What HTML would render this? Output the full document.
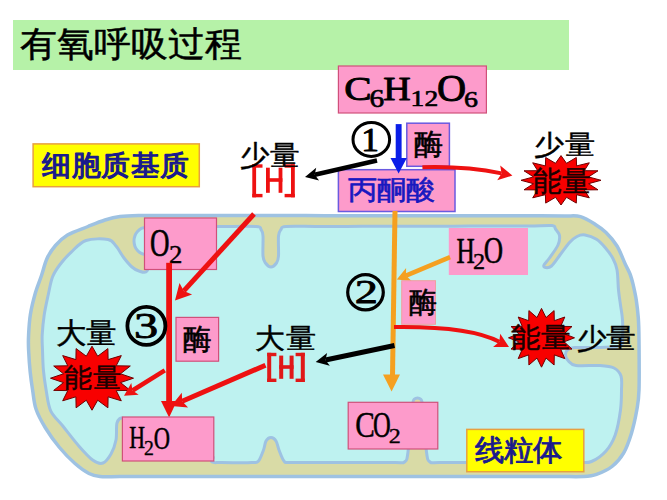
<!DOCTYPE html>
<html><head><meta charset="utf-8"><style>
html,body{margin:0;padding:0;background:#fff;width:667px;height:500px;overflow:hidden}
svg{display:block}
</style></head><body>
<svg width="667" height="500" viewBox="0 0 667 500">
<rect x="13" y="20" width="556" height="50" fill="#b6f2a8"/>
<path d="M88.0,226.5 C94.2,224.0 99.7,221.7 105.0,220.0 C110.3,218.3 114.2,217.2 120.0,216.5 C125.8,215.8 131.5,215.7 140.0,215.5 C148.5,215.3 160.5,215.5 170.77,215.52 C181.0,215.5 191.3,215.5 201.54,215.55 C211.8,215.6 222.1,215.6 232.31,215.57 C242.6,215.6 252.8,215.6 263.08,215.59 C273.3,215.6 283.6,215.6 293.85,215.62 C304.1,215.6 314.4,215.6 324.62,215.64 C334.9,215.6 345.1,215.7 355.38,215.66 C365.6,215.7 375.9,215.7 386.15,215.68 C396.4,215.7 406.7,215.7 416.92,215.71 C427.2,215.7 437.4,215.7 447.69,215.73 C457.9,215.7 468.2,215.7 478.46,215.75 C488.7,215.8 499.0,215.8 509.23,215.78 C519.5,215.8 530.7,215.8 540.0,215.8 C549.3,215.8 558.2,215.9 565.0,216.0 C571.8,216.1 575.5,215.2 580.5,216.6 C585.5,218.0 590.8,221.5 595.0,224.2 C599.2,226.8 602.3,228.9 606.0,232.5 C609.7,236.1 613.8,240.8 617.0,246.0 C620.2,251.2 623.0,259.3 625.2,264.0 C627.4,268.7 628.6,270.4 630.0,274.0 C631.4,277.6 632.2,280.9 633.3,285.3 C634.3,289.7 635.5,294.8 636.3,300.2 C637.1,305.6 637.8,311.4 638.3,318.0 C638.8,324.6 638.9,328.0 639.0,340.0 C639.1,352.0 639.4,378.3 639.0,390.0 C638.6,401.7 638.1,402.8 636.8,410.0 C635.5,417.2 633.6,426.3 631.4,433.4 C629.2,440.5 626.9,447.3 623.7,452.8 C620.5,458.3 616.5,462.9 612.0,466.5 C607.5,470.1 601.3,472.6 596.5,474.3 C591.7,476.0 589.1,476.1 583.0,476.5 C576.9,476.9 569.1,476.5 560.0,476.5 C550.9,476.5 539.0,476.5 528.57,476.5 C518.1,476.5 507.6,476.5 497.14,476.5 C486.7,476.5 476.2,476.5 465.71,476.5 C455.2,476.5 444.8,476.5 434.29,476.5 C423.8,476.5 413.3,476.5 402.86,476.5 C392.4,476.5 381.9,476.5 371.43,476.5 C361.0,476.5 350.5,476.5 340.0,476.5 C329.5,476.5 319.0,476.5 308.57,476.5 C298.1,476.5 287.6,476.5 277.14,476.5 C266.7,476.5 256.2,476.5 245.71,476.5 C235.2,476.5 224.8,476.5 214.29,476.5 C203.8,476.5 193.3,476.5 182.86,476.5 C172.4,476.5 161.9,476.5 151.43,476.5 C141.0,476.5 128.6,476.5 120.0,476.5 C111.4,476.5 105.2,477.0 100.0,476.5 C94.8,476.0 93.2,475.7 89.0,473.5 C84.8,471.3 79.9,467.8 75.0,463.5 C70.1,459.2 64.4,453.4 59.5,447.5 C54.6,441.6 49.4,434.4 45.5,428.0 C41.6,421.6 38.1,415.3 36.0,409.0 C33.9,402.7 33.6,396.2 32.6,390.0 C31.6,383.8 30.9,378.7 30.2,372.0 C29.5,365.3 28.9,356.2 28.6,350.0 C28.3,343.8 28.3,340.8 28.6,335.0 C28.9,329.2 29.2,322.1 30.3,315.0 C31.4,307.9 33.6,299.1 35.5,292.5 C37.4,285.9 39.6,281.2 41.5,275.5 C43.4,269.8 44.7,263.5 47.0,258.5 C49.3,253.5 52.1,249.4 55.5,245.5 C58.9,241.6 62.1,238.2 67.5,235.0 C72.9,231.8 81.8,229.0 88.0,226.5 Z" fill="#d9dba6" stroke="#9ec2e2" stroke-width="3.5"/>
<path d="M150.0,226.5 C155.9,224.9 173.6,226.5 185.33,226.5 C197.1,226.5 208.9,226.5 220.67,226.5 C232.4,226.5 249.3,226.0 256.0,226.5 C262.7,227.0 259.8,227.9 261.0,229.5 C262.2,231.1 262.7,231.6 263.0,236.0 C263.3,240.4 262.6,251.5 263.0,256.0 C263.4,260.5 264.2,261.2 265.5,263.0 C266.8,264.8 269.2,267.0 271.0,267.0 C272.8,267.0 275.2,264.8 276.5,263.0 C277.8,261.2 278.2,260.5 278.5,256.0 C278.8,251.5 278.1,240.4 278.5,236.0 C278.9,231.6 279.8,231.1 281.0,229.5 C282.2,227.9 280.1,227.0 286.0,226.5 C291.9,226.0 306.3,226.5 316.5,226.44 C326.7,226.4 336.8,226.4 347.0,226.38 C357.2,226.4 367.3,226.3 377.5,226.31 C387.7,226.3 397.8,226.3 408.0,226.25 C418.2,226.2 428.3,226.2 438.5,226.19 C448.7,226.2 458.8,226.1 469.0,226.12 C479.2,226.1 489.3,226.1 499.5,226.06 C509.7,226.0 521.2,226.1 530.0,226.0 C538.8,225.9 547.8,225.0 552.0,225.5 C556.2,226.0 554.2,227.3 555.5,229.0 C556.8,230.7 559.1,232.8 559.5,235.5 C559.9,238.2 559.7,241.2 558.0,245.0 C556.3,248.8 551.8,254.7 549.5,258.0 C547.2,261.3 544.7,263.4 544.0,265.0 C543.3,266.6 544.2,267.3 545.5,267.5 C546.8,267.7 549.1,268.1 551.5,266.0 C553.9,263.9 557.0,258.9 560.0,255.0 C563.0,251.1 566.7,245.6 569.5,242.5 C572.3,239.4 574.4,237.8 577.0,236.5 C579.6,235.2 581.8,234.5 585.0,235.0 C588.2,235.5 593.1,237.1 596.5,239.3 C599.9,241.5 602.8,244.8 605.5,248.0 C608.2,251.2 610.9,254.7 612.8,258.3 C614.7,261.9 616.0,264.4 617.0,269.7 C618.0,275.0 617.9,284.1 618.5,290.0 C619.1,295.9 619.8,300.0 620.5,305.0 C621.2,310.0 622.2,314.5 622.5,320.0 C622.8,325.5 622.9,333.7 622.5,338.0 C622.1,342.3 623.8,344.4 620.0,346.0 C616.2,347.6 607.5,347.2 600.0,347.5 C592.5,347.8 580.4,347.1 575.0,347.5 C569.6,347.9 569.1,348.8 567.5,350.0 C565.9,351.2 565.4,353.2 565.5,355.0 C565.6,356.8 566.2,358.8 568.0,360.5 C569.8,362.2 570.7,364.7 576.0,365.5 C581.3,366.3 593.7,365.1 600.0,365.5 C606.3,365.9 610.5,366.2 614.0,368.0 C617.5,369.8 619.8,372.3 621.0,376.0 C622.2,379.7 621.6,384.3 621.5,390.0 C621.4,395.7 621.5,402.6 620.5,410.0 C619.5,417.4 617.7,427.9 615.3,434.7 C612.9,441.5 610.0,446.5 606.0,451.0 C602.0,455.5 596.2,459.6 591.5,461.5 C586.8,463.4 586.0,462.3 578.0,462.5 C570.0,462.7 555.0,462.5 543.5,462.5 C532.0,462.5 520.5,462.5 509.0,462.5 C497.5,462.5 486.0,462.5 474.5,462.5 C463.0,462.5 447.4,462.6 440.0,462.5 C432.6,462.4 432.2,463.8 430.0,462.0 C427.8,460.2 427.7,461.0 426.5,452.0 C425.3,443.0 424.0,416.8 423.0,408.0 C422.0,399.2 421.9,400.5 420.5,399.0 C419.1,397.5 415.9,397.5 414.5,399.0 C413.1,400.5 413.1,399.2 412.0,408.0 C410.9,416.8 409.2,443.0 408.0,452.0 C406.8,461.0 406.7,460.2 404.5,462.0 C402.3,463.8 402.4,462.4 395.0,462.5 C387.6,462.6 371.7,462.5 360.0,462.5 C348.3,462.5 336.7,462.5 325.0,462.5 C313.3,462.5 296.8,462.8 290.0,462.5 C283.2,462.2 285.8,463.1 284.0,461.0 C282.2,458.9 280.3,453.3 279.0,450.0 C277.7,446.7 277.3,443.1 276.0,441.0 C274.7,438.9 272.7,437.5 271.0,437.5 C269.3,437.5 267.2,438.9 266.0,441.0 C264.8,443.1 264.8,446.7 263.5,450.0 C262.2,453.3 260.4,458.9 258.5,461.0 C256.6,463.1 258.1,462.2 252.0,462.5 C245.9,462.8 228.7,462.6 222.0,462.5 C215.3,462.4 214.3,463.2 212.0,462.0 C209.7,460.8 218.3,456.2 208.0,455.0 C197.7,453.8 163.7,455.0 150.0,455.0 C136.3,455.0 130.0,460.0 126.0,455.0 C122.0,450.0 126.7,431.2 126.0,425.0 C125.3,418.8 123.5,418.3 122.0,418.0 C120.5,417.7 118.0,419.3 117.0,423.0 C116.0,426.7 117.0,434.8 116.0,440.0 C115.0,445.2 113.2,450.2 111.0,454.0 C108.8,457.8 106.0,461.9 103.0,463.0 C100.0,464.1 97.0,463.1 93.0,460.3 C89.0,457.5 84.0,451.9 79.0,446.2 C74.0,440.5 67.5,431.9 62.8,426.0 C58.1,420.1 53.5,416.7 50.7,410.8 C47.9,404.9 47.4,397.3 46.2,390.5 C45.0,383.7 44.0,376.8 43.4,370.0 C42.8,363.2 42.7,355.8 42.5,350.0 C42.3,344.2 41.9,340.8 42.2,335.0 C42.5,329.2 43.2,321.7 44.2,315.0 C45.2,308.3 46.8,301.4 48.2,295.0 C49.6,288.6 50.6,281.9 52.6,276.8 C54.6,271.7 56.9,268.6 60.0,264.5 C63.1,260.4 66.7,256.3 71.0,252.3 C75.3,248.3 79.8,242.6 86.0,240.5 C92.2,238.4 103.0,238.6 108.0,239.5 C113.0,240.4 113.3,242.9 116.0,246.0 C118.7,249.1 121.3,254.5 124.0,258.0 C126.7,261.5 129.5,264.8 132.0,267.0 C134.5,269.2 136.5,270.3 139.0,271.0 C141.5,271.7 145.2,273.7 147.0,271.0 C148.8,268.3 149.5,260.8 150.0,255.0 C150.5,249.2 150.0,240.8 150.0,236.0 C150.0,231.2 144.1,228.1 150.0,226.5 Z" fill="#bef2f0" stroke="#9ec2e2" stroke-width="3"/>
<ellipse cx="146" cy="241" rx="12" ry="13.5" fill="#bef2f0" stroke="#9ec2e2" stroke-width="3"/>
<text transform="matrix(0.37143 0 0 0.35208 20.26 56.02)" x="0" y="0" style="font-family:'Liberation Sans',sans-serif;font-size:100px;font-weight:normal" fill="#000" stroke="#000" stroke-width="1.38" stroke-linejoin="round">有氧呼吸过程</text>
<rect x="338.4" y="66" width="148.0" height="47" fill="#fd9bcb" stroke="#d0507a" stroke-width="1.2"/>
<text transform="matrix(0.41053 0 0 0.34412 344.36 99.91)" x="0" y="0" style="font-family:'Liberation Serif',serif;font-size:100px;font-weight:normal" fill="#000" stroke="#000" stroke-width="2.65" stroke-linejoin="round">C</text>
<text transform="matrix(0.29302 0 0 0.25000 369.43 106.50)" x="0" y="0" style="font-family:'Liberation Serif',serif;font-size:100px;font-weight:normal" fill="#000" stroke="#000" stroke-width="2.58" stroke-linejoin="round">6</text>
<text transform="matrix(0.38030 0 0 0.33636 383.26 99.66)" x="0" y="0" style="font-family:'Liberation Serif',serif;font-size:100px;font-weight:normal" fill="#000" stroke="#000" stroke-width="2.79" stroke-linejoin="round">H</text>
<text transform="matrix(0.27558 0 0 0.23284 410.62 106.37)" x="0" y="0" style="font-family:'Liberation Serif',serif;font-size:100px;font-weight:normal" fill="#000" stroke="#000" stroke-width="2.75" stroke-linejoin="round">12</text>
<text transform="matrix(0.40312 0 0 0.37059 436.99 101.06)" x="0" y="0" style="font-family:'Liberation Serif',serif;font-size:100px;font-weight:normal" fill="#000" stroke="#000" stroke-width="2.58" stroke-linejoin="round">O</text>
<text transform="matrix(0.27907 0 0 0.23529 463.88 106.53)" x="0" y="0" style="font-family:'Liberation Serif',serif;font-size:100px;font-weight:normal" fill="#000" stroke="#000" stroke-width="2.72" stroke-linejoin="round">6</text>
<rect x="406.8" y="123.2" width="42.599999999999966" height="43.10000000000001" fill="#fd9bcb" stroke="#6a5ae0" stroke-width="1.5"/>
<text transform="matrix(0.29255 0 0 0.29255 414.22 154.40)" x="0" y="0" style="font-family:'Liberation Sans',sans-serif;font-size:100px;font-weight:normal" fill="#000" stroke="#000" stroke-width="2.05" stroke-linejoin="round">酶</text>
<rect x="338.4" y="169.7" width="116.60000000000002" height="41.80000000000001" fill="#fd9bcb" stroke="#6a5ae0" stroke-width="1.5"/>
<text transform="matrix(0.29113 0 0 0.26979 347.52 198.72)" x="0" y="0" style="font-family:'Liberation Sans',sans-serif;font-size:100px;font-weight:normal" fill="#1818c0" stroke="#1818c0" stroke-width="2.50" stroke-linejoin="round">丙酮酸</text>
<rect x="33.1" y="143.9" width="166.20000000000002" height="42.79999999999998" fill="#ffff00" stroke="#e8a040" stroke-width="1.5"/>
<text transform="matrix(0.29273 0 0 0.28454 42.31 175.42)" x="0" y="0" style="font-family:'Liberation Sans',sans-serif;font-size:100px;font-weight:normal" fill="#1a1a8c" stroke="#1a1a8c" stroke-width="4.50" stroke-linejoin="round">细胞质基质</text>
<rect x="252.3" y="164.3" width="3.8" height="33.0" fill="#ee1111"/>
<rect x="252.3" y="164.3" width="10.2" height="3.4" fill="#ee1111"/>
<rect x="252.3" y="193.9" width="10.2" height="3.4" fill="#ee1111"/>
<rect x="266.0" y="167.7" width="3.8" height="25.1" fill="#ee1111"/>
<rect x="278.6" y="167.7" width="3.8" height="25.1" fill="#ee1111"/>
<rect x="266.0" y="178.2" width="16.4" height="3.6" fill="#ee1111"/>
<rect x="291.0" y="164.3" width="3.8" height="33.0" fill="#ee1111"/>
<rect x="284.6" y="164.3" width="10.2" height="3.4" fill="#ee1111"/>
<rect x="284.6" y="193.9" width="10.2" height="3.4" fill="#ee1111"/>
<text transform="matrix(0.29948 0 0 0.28367 240.30 164.56)" x="0" y="0" style="font-family:'Liberation Sans',sans-serif;font-size:100px;font-weight:normal" fill="#000" stroke="#000" stroke-width="1.54" stroke-linejoin="round">少量</text>
<ellipse cx="371.3" cy="139.4" rx="18.3" ry="17" fill="none" stroke="#000" stroke-width="3"/>
<text transform="matrix(0.35429 0 0 0.33485 361.31 150.80)" x="0" y="0" style="font-family:'Liberation Serif',serif;font-size:100px;font-weight:normal" fill="#000" stroke="#000" stroke-width="2.90" stroke-linejoin="round">1</text>
<rect x="395.7" y="124.1" width="5.9" height="35" fill="#0a1ee8"/>
<path d="M390.5,157.9 L406.8,157.9 L398.6,173.5 Z" fill="#0a1ee8"/>
<line x1="377.0" y1="160.5" x2="314.7" y2="174.8" stroke="#000" stroke-width="4.5"/>
<path d="M305.0,177.0 L316.2,167.8 L314.7,174.8 L319.1,180.4 Z" fill="#000"/>
<path d="M422.4,167.3 Q465,166 501.6,173.4" fill="none" stroke="#ee1111" stroke-width="4"/>
<path d="M512.4,175.6 L497.2,180.2 L501.6,173.4 L500.2,165.5 Z" fill="#ee1111"/>
<text transform="matrix(0.30104 0 0 0.26939 534.20 153.89)" x="0" y="0" style="font-family:'Liberation Sans',sans-serif;font-size:100px;font-weight:normal" fill="#000" stroke="#000" stroke-width="1.58" stroke-linejoin="round">少量</text>
<polygon points="561.0,155.6 566.5,163.3 576.3,157.5 576.6,165.9 589.3,162.8 584.3,170.7 598.0,170.8 588.5,176.9 601.0,180.3 588.5,183.7 598.0,189.8 584.3,189.9 589.3,197.8 576.6,194.7 576.3,203.1 566.5,197.3 561.0,205.0 555.5,197.3 545.7,203.1 545.4,194.7 532.7,197.8 537.7,189.9 524.0,189.8 533.5,183.7 521.0,180.3 533.5,176.9 524.0,170.8 537.7,170.7 532.7,162.8 545.4,165.9 545.7,157.5 555.5,163.3" fill="#f80000" stroke="#700000" stroke-width="1"/>
<text transform="matrix(0.28918 0 0 0.29247 533.12 191.48)" x="0" y="0" style="font-family:'Liberation Sans',sans-serif;font-size:100px;font-weight:normal" fill="#1a0000" stroke="#1a0000" stroke-width="1.72" stroke-linejoin="round">能量</text>
<rect x="144.5" y="218" width="72.0" height="51.5" fill="#fd9bcb" stroke="#d0507a" stroke-width="1.2"/>
<text transform="matrix(0.27031 0 0 0.40147 150.12 256.20)" x="0" y="0" style="font-family:'Liberation Serif',serif;font-size:100px;font-weight:normal" fill="#000" stroke="#000" stroke-width="1.49" stroke-linejoin="round">O</text>
<text transform="matrix(0.26829 0 0 0.24328 168.93 263.06)" x="0" y="0" style="font-family:'Liberation Serif',serif;font-size:100px;font-weight:normal" fill="#000" stroke="#000" stroke-width="1.56" stroke-linejoin="round">2</text>
<line x1="254.0" y1="214.0" x2="183.8" y2="290.9" stroke="#ee1111" stroke-width="5"/>
<path d="M175.0,300.5 L179.5,283.0 L183.8,290.9 L192.1,294.4 Z" fill="#ee1111"/>
<rect x="166.2" y="262.8" width="5.8" height="140" fill="#ee1111"/>
<path d="M161,400.9 L176.8,400.9 L169.1,417.4 Z" fill="#ee1111"/>
<path d="M392.5,211 L397.5,211 L395,376 L390,376 Z" fill="#f5a020"/>
<path d="M383,374.5 L400,374.5 L391.6,391.5 Z" fill="#f5a020"/>
<rect x="448.8" y="228" width="79.19999999999999" height="47" fill="#fd9bcb"/>
<text transform="matrix(0.25303 0 0 0.36061 456.44 262.94)" x="0" y="0" style="font-family:'Liberation Serif',serif;font-size:100px;font-weight:normal" fill="#000" stroke="#000" stroke-width="1.63" stroke-linejoin="round">H</text>
<text transform="matrix(0.24146 0 0 0.22239 472.93 268.98)" x="0" y="0" style="font-family:'Liberation Serif',serif;font-size:100px;font-weight:normal" fill="#000" stroke="#000" stroke-width="1.72" stroke-linejoin="round">2</text>
<text transform="matrix(0.26719 0 0 0.37059 483.63 263.06)" x="0" y="0" style="font-family:'Liberation Serif',serif;font-size:100px;font-weight:normal" fill="#000" stroke="#000" stroke-width="1.57" stroke-linejoin="round">O</text>
<line x1="450.1" y1="257.2" x2="406.0" y2="275.6" stroke="#f5a020" stroke-width="4.5"/>
<path d="M396.8,279.4 L406.1,267.9 L406.0,275.6 L411.5,280.9 Z" fill="#f5a020"/>
<ellipse cx="365.5" cy="292.3" rx="17.8" ry="17.6" fill="none" stroke="#000" stroke-width="3.2"/>
<text transform="matrix(0.46341 0 0 0.34328 354.65 303.16)" x="0" y="0" style="font-family:'Liberation Serif',serif;font-size:100px;font-weight:normal" fill="#000" stroke="#000" stroke-width="2.48" stroke-linejoin="round">2</text>
<rect x="401.7" y="280.7" width="33.80000000000001" height="43.60000000000002" fill="#fd9bcb" stroke="#f0a0a0" stroke-width="1"/>
<text transform="matrix(0.28191 0 0 0.29255 409.15 311.90)" x="0" y="0" style="font-family:'Liberation Sans',sans-serif;font-size:100px;font-weight:normal" fill="#000" stroke="#000" stroke-width="2.09" stroke-linejoin="round">酶</text>
<path d="M394,327 Q470,326 499.3,341.8" fill="none" stroke="#ee1111" stroke-width="4"/>
<path d="M509.0,347.0 L493.1,347.0 L499.3,341.8 L500.2,333.8 Z" fill="#ee1111"/>
<polygon points="541.5,308.4 546.0,317.6 554.1,310.6 554.3,320.7 564.8,317.0 560.7,326.4 572.0,326.5 564.2,333.8 574.5,337.8 564.2,341.8 572.0,349.1 560.7,349.2 564.8,358.6 554.3,354.9 554.1,365.0 546.0,358.0 541.5,367.2 537.0,358.0 528.9,365.0 528.7,354.9 518.2,358.6 522.3,349.2 511.0,349.1 518.8,341.8 508.5,337.8 518.8,333.8 511.0,326.5 522.3,326.4 518.2,317.0 528.7,320.7 528.9,310.6 537.0,317.6" fill="#f80000" stroke="#700000" stroke-width="1"/>
<text transform="matrix(0.29794 0 0 0.28280 510.90 347.29)" x="0" y="0" style="font-family:'Liberation Sans',sans-serif;font-size:100px;font-weight:normal" fill="#1a0000" stroke="#1a0000" stroke-width="1.72" stroke-linejoin="round">能量</text>
<text transform="matrix(0.29479 0 0 0.27857 576.52 348.04)" x="0" y="0" style="font-family:'Liberation Sans',sans-serif;font-size:100px;font-weight:normal" fill="#000" stroke="#000" stroke-width="1.57" stroke-linejoin="round">少量</text>
<line x1="394.5" y1="345.5" x2="325.5" y2="360.0" stroke="#000" stroke-width="5"/>
<path d="M315.7,362.0 L327.1,353.0 L325.5,360.0 L329.8,365.7 Z" fill="#000"/>
<rect x="267.2" y="352.8" width="4.0" height="29.2" fill="#e01818"/>
<rect x="267.2" y="352.8" width="9.2" height="3.4" fill="#e01818"/>
<rect x="267.2" y="378.6" width="9.2" height="3.4" fill="#e01818"/>
<rect x="279.2" y="355.6" width="4.0" height="23.2" fill="#e01818"/>
<rect x="289.6" y="355.6" width="4.0" height="23.2" fill="#e01818"/>
<rect x="279.2" y="365.2" width="14.4" height="3.6" fill="#e01818"/>
<rect x="300.8" y="352.8" width="4.0" height="29.2" fill="#e01818"/>
<rect x="295.6" y="352.8" width="9.2" height="3.4" fill="#e01818"/>
<rect x="295.6" y="378.6" width="9.2" height="3.4" fill="#e01818"/>
<text transform="matrix(0.30156 0 0 0.28085 255.49 348.13)" x="0" y="0" style="font-family:'Liberation Sans',sans-serif;font-size:100px;font-weight:normal" fill="#000" stroke="#000" stroke-width="1.55" stroke-linejoin="round">大量</text>
<text transform="matrix(0.30156 0 0 0.28723 56.09 342.85)" x="0" y="0" style="font-family:'Liberation Sans',sans-serif;font-size:100px;font-weight:normal" fill="#000" stroke="#000" stroke-width="1.53" stroke-linejoin="round">大量</text>
<circle cx="146.4" cy="325.9" r="19" fill="none" stroke="#000" stroke-width="3.8"/>
<text transform="matrix(0.48293 0 0 0.35373 134.09 337.65)" x="0" y="0" style="font-family:'Liberation Serif',serif;font-size:100px;font-weight:normal" fill="#000" stroke="#000" stroke-width="2.39" stroke-linejoin="round">3</text>
<rect x="176" y="317.4" width="42.599999999999994" height="43.80000000000001" fill="#fd9bcb" stroke="#d0507a" stroke-width="1.2"/>
<text transform="matrix(0.28830 0 0 0.29362 183.14 348.99)" x="0" y="0" style="font-family:'Liberation Sans',sans-serif;font-size:100px;font-weight:normal" fill="#000" stroke="#000" stroke-width="2.06" stroke-linejoin="round">酶</text>
<polygon points="92.0,346.2 97.7,356.2 107.9,348.6 108.1,359.6 121.3,355.6 116.2,365.8 130.3,366.0 120.5,373.8 133.5,378.2 120.5,382.6 130.3,390.4 116.2,390.6 121.3,400.8 108.1,396.8 107.9,407.8 97.7,400.2 92.0,410.2 86.3,400.2 76.1,407.8 75.9,396.8 62.7,400.8 67.8,390.6 53.7,390.4 63.5,382.6 50.5,378.2 63.5,373.8 53.7,366.0 67.8,365.8 62.7,355.6 75.9,359.6 76.1,348.6 86.3,356.2" fill="#f80000" stroke="#700000" stroke-width="1"/>
<text transform="matrix(0.28608 0 0 0.27419 63.93 387.18)" x="0" y="0" style="font-family:'Liberation Sans',sans-serif;font-size:100px;font-weight:normal" fill="#1a0000" stroke="#1a0000" stroke-width="1.78" stroke-linejoin="round">能量</text>
<line x1="164.8" y1="370.3" x2="132.5" y2="390.5" stroke="#ee1111" stroke-width="4.5"/>
<path d="M124.0,395.8 L131.3,383.0 L132.5,390.5 L138.7,394.8 Z" fill="#ee1111"/>
<line x1="265.5" y1="365.2" x2="182.2" y2="401.2" stroke="#ee1111" stroke-width="5"/>
<path d="M171.2,406.0 L181.8,392.7 L182.2,401.2 L188.1,407.4 Z" fill="#ee1111"/>
<rect x="122.4" y="417" width="91.4" height="44" fill="#fd9bcb" stroke="#d0507a" stroke-width="1.2"/>
<text transform="matrix(0.21818 0 0 0.30606 129.35 448.49)" x="0" y="0" style="font-family:'Liberation Serif',serif;font-size:100px;font-weight:normal" fill="#000" stroke="#000" stroke-width="1.72" stroke-linejoin="round">H</text>
<text transform="matrix(0.19756 0 0 0.20746 144.01 454.89)" x="0" y="0" style="font-family:'Liberation Serif',serif;font-size:100px;font-weight:normal" fill="#000" stroke="#000" stroke-width="1.73" stroke-linejoin="round">2</text>
<text transform="matrix(0.22500 0 0 0.31765 153.80 449.06)" x="0" y="0" style="font-family:'Liberation Serif',serif;font-size:100px;font-weight:normal" fill="#000" stroke="#000" stroke-width="1.66" stroke-linejoin="round">O</text>
<rect x="348.2" y="402.3" width="89.60000000000002" height="46.69999999999999" fill="#fd9bcb" stroke="#d0507a" stroke-width="1.2"/>
<text transform="matrix(0.29298 0 0 0.35000 355.13 436.70)" x="0" y="0" style="font-family:'Liberation Serif',serif;font-size:100px;font-weight:normal" fill="#000" stroke="#000" stroke-width="1.40" stroke-linejoin="round">C</text>
<text transform="matrix(0.24531 0 0 0.35000 372.92 436.70)" x="0" y="0" style="font-family:'Liberation Serif',serif;font-size:100px;font-weight:normal" fill="#000" stroke="#000" stroke-width="1.51" stroke-linejoin="round">O</text>
<text transform="matrix(0.24146 0 0 0.20746 388.63 442.59)" x="0" y="0" style="font-family:'Liberation Serif',serif;font-size:100px;font-weight:normal" fill="#000" stroke="#000" stroke-width="1.56" stroke-linejoin="round">2</text>
<rect x="466.8" y="429.4" width="116.99999999999994" height="42.30000000000001" fill="#ffff00" stroke="#e8a040" stroke-width="1.5"/>
<text transform="matrix(0.29122 0 0 0.28737 474.91 460.16)" x="0" y="0" style="font-family:'Liberation Sans',sans-serif;font-size:100px;font-weight:normal" fill="#1a1a8c" stroke="#1a1a8c" stroke-width="3.11" stroke-linejoin="round">线粒体</text>
</svg>
</body></html>
